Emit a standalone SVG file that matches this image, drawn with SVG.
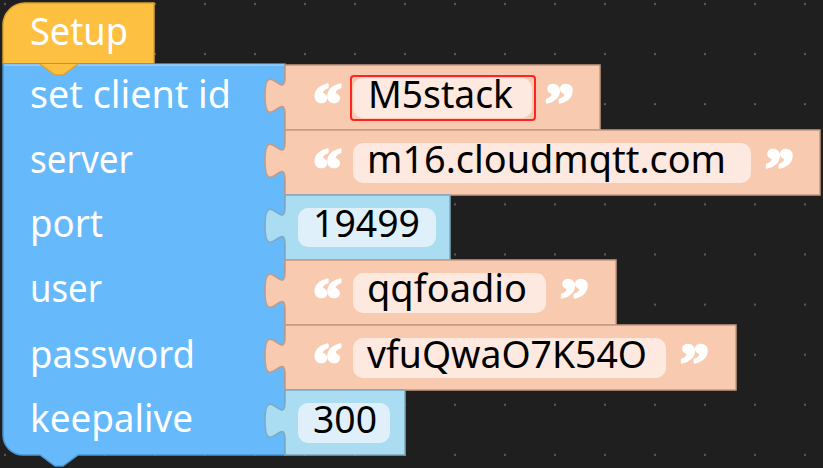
<svg xmlns="http://www.w3.org/2000/svg" width="823" height="468" viewBox="0 0 823 468">
  <defs>
    <pattern id="grid" x="0" y="0" width="50" height="50.1" patternUnits="userSpaceOnUse">
      <rect x="4" y="3" width="2" height="2" fill="#5c5c5c"/>
    </pattern>
    <style>
      .lbl{font-family:"Noto Sans","Open Sans","Liberation Sans",sans-serif;font-size:39px;fill:#ffffff;}
      .val{font-family:"Noto Sans","Open Sans","Liberation Sans",sans-serif;font-size:39px;fill:#000000;}
      .q{font-family:"Liberation Serif","DejaVu Serif",serif;font-weight:bold;font-size:58px;fill:#ffffff;stroke:#ffffff;stroke-width:2.6;stroke-linejoin:round;}
      .txtblk{fill:#f8cbb0;stroke:#c39a86;stroke-width:1.5;}
      .numblk{fill:#aadcf2;stroke:#7fa9bf;stroke-width:1.5;}
      .txtfld{fill:#fde9df;}
      .numfld{fill:#dff0fb;}
    </style>
  </defs>
  <rect width="823" height="468" fill="#1f1f1f"/>
  <rect width="823" height="468" fill="url(#grid)"/>

  <g id="setup-hat">
    <path d="M3,64 V25 A22,22 0 0 1 25,3 H154 V64 H78 L63,75 H55 L40,64 Z" fill="#fdc040" stroke="#d9a233" stroke-width="1.5"/>
    <text class="lbl" x="30" y="45" textLength="98" lengthAdjust="spacingAndGlyphs">Setup</text>
  </g>

  <g id="mqtt-block">
    <path d="M3,64 H285 V455 H78 L63,466 H55 L40,455 H23 A20,20 0 0 1 3,435 Z" fill="#66b9fa" stroke="#4d95d3" stroke-width="1.5"/>
    <path d="M4,65 H284" stroke="#9fd2fc" stroke-width="1.5" fill="none"/>
    <path d="M40,64 L55,75 H63 L78,64" fill="#fdc040" stroke="#d9a233" stroke-width="1.5"/>
    <text class="lbl" x="30" y="108" textLength="201" lengthAdjust="spacingAndGlyphs">set client id</text>
    <text class="lbl" x="30" y="173" textLength="103" lengthAdjust="spacingAndGlyphs">server</text>
    <text class="lbl" x="30" y="237" textLength="73" lengthAdjust="spacingAndGlyphs">port</text>
    <text class="lbl" x="30" y="302" textLength="72" lengthAdjust="spacingAndGlyphs">user</text>
    <text class="lbl" x="30" y="368" textLength="165" lengthAdjust="spacingAndGlyphs">password</text>
    <text class="lbl" x="30" y="432" textLength="163" lengthAdjust="spacingAndGlyphs">keepalive</text>
  </g>

  <g id="client-id-value">
    <path class="txtblk" d="M285,65 V77 c0,25 -20,-20 -20,18.75 s20,-6.25 20,18.75 V130 H600 V65 Z"/>
    <text class="q" x="313" y="123">“</text>
    <rect class="txtfld" x="353" y="78" width="179" height="40" rx="10"/>
    <rect x="351" y="76" width="184" height="44" rx="3" fill="none" stroke="#ff2323" stroke-width="2"/>
    <text class="val" x="368" y="108" textLength="145" lengthAdjust="spacingAndGlyphs">M5stack</text>
    <text class="q" x="545" y="123">”</text>
  </g>

  <g id="server-value">
    <path class="txtblk" d="M285,130 V142 c0,25 -20,-20 -20,18.75 s20,-6.25 20,18.75 V195 H820 V130 Z"/>
    <text class="q" x="313" y="188">“</text>
    <rect class="txtfld" x="353" y="143" width="398" height="40" rx="10"/>
    <text class="val" x="367" y="173" textLength="359" lengthAdjust="spacingAndGlyphs">m16.cloudmqtt.com</text>
    <text class="q" x="765" y="188">”</text>
  </g>

  <g id="port-value">
    <path class="numblk" d="M285,195 V207 c0,25 -20,-20 -20,18.75 s20,-6.25 20,18.75 V260 H450 V195 Z"/>
    <rect class="numfld" x="298" y="208" width="138" height="39" rx="10"/>
    <text class="val" x="313" y="237" textLength="107" lengthAdjust="spacingAndGlyphs">19499</text>
  </g>

  <g id="user-value">
    <path class="txtblk" d="M285,260 V272 c0,25 -20,-20 -20,18.75 s20,-6.25 20,18.75 V325 H616 V260 Z"/>
    <text class="q" x="313" y="318">“</text>
    <rect class="txtfld" x="353" y="273" width="193" height="40" rx="10"/>
    <text class="val" x="367" y="302" textLength="160" lengthAdjust="spacingAndGlyphs">qqfoadio</text>
    <text class="q" x="560" y="318">”</text>
  </g>

  <g id="password-value">
    <path class="txtblk" d="M285,325 V337 c0,25 -20,-20 -20,18.75 s20,-6.25 20,18.75 V390 H736 V325 Z"/>
    <text class="q" x="313" y="383">“</text>
    <rect class="txtfld" x="353" y="338" width="313" height="40" rx="10"/>
    <text class="val" x="367" y="368" textLength="280" lengthAdjust="spacingAndGlyphs">vfuQwaO7K54O</text>
    <text class="q" x="680" y="383">”</text>
  </g>

  <g id="keepalive-value">
    <path class="numblk" d="M285,390 V402 c0,25 -20,-20 -20,18.75 s20,-6.25 20,18.75 V455 H405 V390 Z"/>
    <rect class="numfld" x="298" y="403" width="92" height="40" rx="10"/>
    <text class="val" x="313" y="433" textLength="64" lengthAdjust="spacingAndGlyphs">300</text>
  </g>

  <g id="connectors"></g>
</svg>
